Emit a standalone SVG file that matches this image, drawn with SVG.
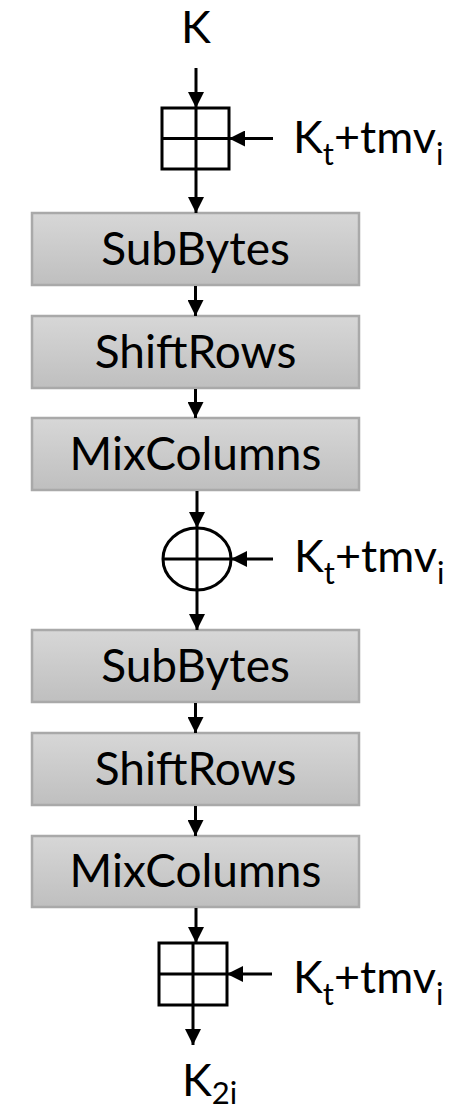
<svg xmlns="http://www.w3.org/2000/svg" width="469" height="1112" viewBox="0 0 469 1112">
<style>
.box{fill:url(#g);stroke:#a9a9a9;stroke-width:2.5}
.bt{font-family:Lato,"Liberation Sans",sans-serif;font-size:46px;fill:#000;text-anchor:middle}
.lb{font-family:Lato,"Liberation Sans",sans-serif;font-size:45px;fill:#000}
.sub{font-size:31px}
.ln{stroke:#000;stroke-width:3;fill:none}
.arr{stroke:#000;stroke-width:3;fill:none;marker-end:url(#ah)}
.op{stroke:#000;stroke-width:3;fill:none}
</style>
<defs>
<linearGradient id="g" x1="0" y1="0" x2="0" y2="1">
<stop offset="0" stop-color="#d7d7d7"/>
<stop offset="1" stop-color="#bfbfbf"/>
</linearGradient>
<marker id="ah" markerUnits="userSpaceOnUse" markerWidth="16" markerHeight="16" refX="16" refY="8" orient="auto">
<path d="M0,0 L16,8 L0,16 z" fill="#000"/>
</marker>
</defs>
<rect width="469" height="1112" fill="#fff"/>

<g id="in-k"><text class="lb" x="196" y="43" text-anchor="middle">K</text></g>

<g id="add1">
<rect class="op" x="162" y="108" width="67" height="61"/>
<line class="op" x1="196" y1="108" x2="196" y2="169"/>
<line class="op" x1="162" y1="138.5" x2="229" y2="138.5"/>
</g>
<g id="key1"><text class="lb" x="293" y="153">K<tspan class="sub" dy="12">t</tspan><tspan dy="-12">+tmv</tspan><tspan class="sub" dy="12">i</tspan></text></g>

<g id="subbytes1"><rect class="box" x="32" y="213" width="327" height="72"/><text class="bt" x="195.5" y="265">SubBytes</text></g>
<g id="shiftrows1"><rect class="box" x="32" y="316" width="327" height="72"/><text class="bt" x="195.5" y="368">ShiftRows</text></g>
<g id="mixcolumns1"><rect class="box" x="32" y="418" width="327" height="72"/><text class="bt" x="195.5" y="470">MixColumns</text></g>

<g id="xor">
<ellipse class="op" cx="197" cy="559" rx="34" ry="31"/>
<line class="op" x1="197" y1="528" x2="197" y2="590"/>
<line class="op" x1="163" y1="559" x2="231" y2="559"/>
</g>
<g id="key2"><text class="lb" x="294" y="572">K<tspan class="sub" dy="12">t</tspan><tspan dy="-12">+tmv</tspan><tspan class="sub" dy="12">i</tspan></text></g>

<g id="subbytes2"><rect class="box" x="32" y="630" width="327" height="72"/><text class="bt" x="195.5" y="682">SubBytes</text></g>
<g id="shiftrows2"><rect class="box" x="32" y="733" width="327" height="72"/><text class="bt" x="195.5" y="785">ShiftRows</text></g>
<g id="mixcolumns2"><rect class="box" x="32" y="836" width="327" height="71"/><text class="bt" x="195.5" y="887">MixColumns</text></g>

<g id="add2">
<rect class="op" x="159" y="943" width="68" height="62"/>
<line class="op" x1="193" y1="943" x2="193" y2="1005"/>
<line class="op" x1="159" y1="974" x2="227" y2="974"/>
</g>
<g id="key3"><text class="lb" x="293" y="993">K<tspan class="sub" dy="12">t</tspan><tspan dy="-12">+tmv</tspan><tspan class="sub" dy="12">i</tspan></text></g>

<g id="out-k2i"><text class="lb" x="182" y="1096">K<tspan class="sub" dy="8">2i</tspan></text></g>

<g id="connectors">
<line class="arr" x1="196" y1="68" x2="196" y2="108"/>
<line class="arr" x1="273" y1="138.5" x2="229" y2="138.5"/>
<line class="arr" x1="196" y1="169" x2="196" y2="213"/>
<line class="arr" x1="195.5" y1="286" x2="195.5" y2="316"/>
<line class="arr" x1="195.5" y1="389" x2="195.5" y2="418"/>
<line class="arr" x1="197" y1="491" x2="197" y2="528"/>
<line class="arr" x1="273" y1="559" x2="231" y2="559"/>
<line class="arr" x1="197" y1="590" x2="197" y2="630"/>
<line class="arr" x1="195.5" y1="703" x2="195.5" y2="733"/>
<line class="arr" x1="195.5" y1="806" x2="195.5" y2="836"/>
<line class="arr" x1="196" y1="908" x2="196" y2="943"/>
<line class="arr" x1="272" y1="974" x2="227" y2="974"/>
<line class="arr" x1="193" y1="1005" x2="193" y2="1045"/>
</g>
</svg>
